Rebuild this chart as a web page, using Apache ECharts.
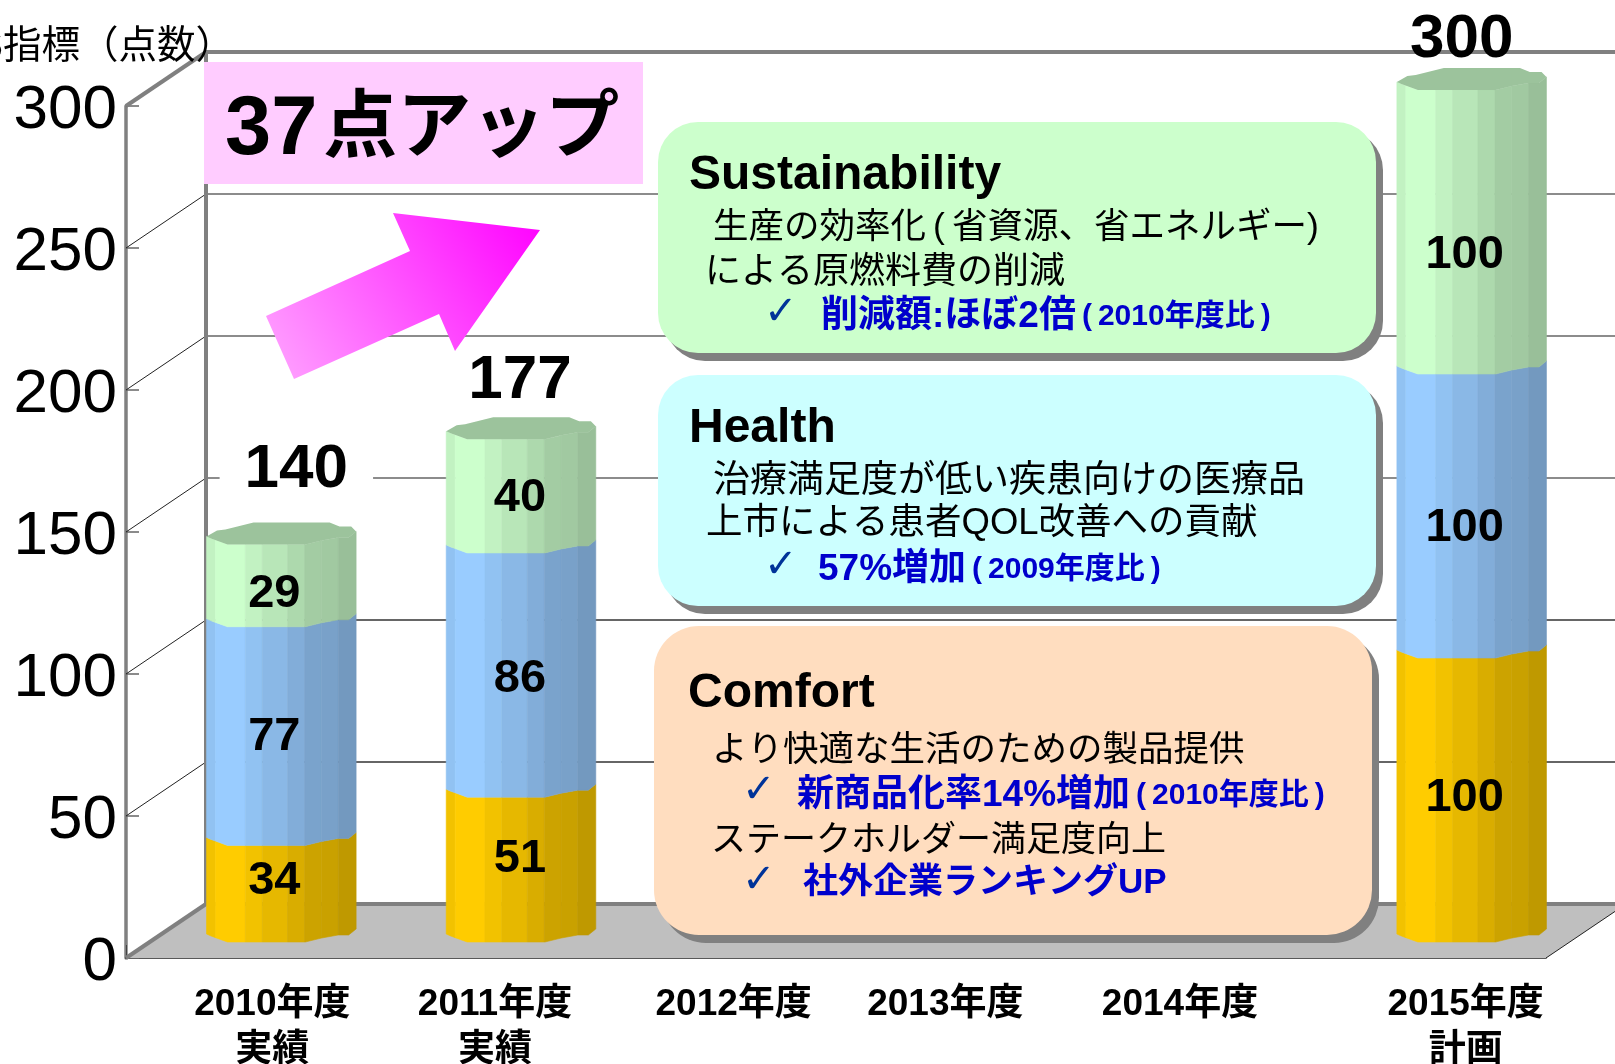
<!DOCTYPE html>
<html lang="ja">
<head>
<meta charset="utf-8">
<style>html,body{margin:0;padding:0;background:#fff;overflow:hidden}#c{width:1615px;height:1064px}</style>
<script src="https://cdn.jsdelivr.net/npm/echarts@6/dist/echarts.min.js"></script>
</head>
<body>
<div id="c"></div>
<script>
const categories = ['2010年度\n実績','2011年度\n実績','2012年度','2013年度','2014年度','2015年度\n計画'];
const comfort = [34,51,null,null,null,100];
const health = [77,86,null,null,null,100];
const sustainability = [29,40,null,null,null,100];
const totals = [140,177,null,null,null,300];
const yTicks = [0,50,100,150,200,250,300];
const comfortNudge = [-2,0,0,0,0,9];
const healthNudge = [12,15,0,0,0,23];
const sustainNudge = [19,13,0,0,0,34];
const labelShiftX = [-7,-1,0,0,0,-7];
const barShiftX = [-3,0,0,0,0,4];
const totalOffset = [[15,-63],[-1,-47],null,null,null,[-10,-39]];
const categoryShift = [[56,0],[28,0],[32,0],[0,18],[0,22],[76,0]];

const FONT = '"Liberation Sans","Noto Sans CJK JP",sans-serif';
const DEPTH_X = 80, DEPTH_Y = 54, TEXT_DY = 3.5;
const SHADES = [.95,1,.95,.9,.85,.8,.79,.75];
const STRIPS = [0,.06,.259,.372,.542,.655,.768,.88,1];
const FRONT = [[0,3],[.03,5],[.14,11],[.66,11],[.77,7],[.88,4],[.95,4],[1,-2]];
const BACK = [[0,3],[.07,-3],[.126,-4],[.314,-11],[.823,-11],[.889,-7],[.967,-7],[1,-2]];

function shade(hex,f){
  const n=parseInt(hex.slice(1),16);
  return 'rgb('+[(n>>16)&255,(n>>8)&255,n&255].map(c=>Math.round(c*f)).join(',')+')';
}
function prof(f){
  for(let i=1;i<FRONT.length;i++){
    if(f<=FRONT[i][0]){
      const a=FRONT[i-1],b=FRONT[i];
      return a[1]+(b[1]-a[1])*(f-a[0])/(b[0]-a[0]);
    }
  }
  return FRONT[FRONT.length-1][1];
}
function segmentSeries(name,color,values,below,nudge,isTop){
  const data=values.map((v,i)=>v==null?[i,null,null,null]:[i,below[i],below[i]+v,v]);
  return {
    type:'custom',name,data,z:3,clip:false,silent:true,
    encode:{x:0,y:2},
    renderItem(params,api){
      const i=api.value(0);
      if(values[i]==null) return null;
      const base=api.value(1),top=api.value(2);
      const W=api.size([1,0])[0]*.632;
      const cx=api.coord([i,0])[0]+DEPTH_X/2+barShiftX[i];
      const x0=cx-W/2;
      const yB=api.coord([i,base])[1]-DEPTH_Y/2;
      const yT=api.coord([i,top])[1]-DEPTH_Y/2;
      const kids=[];
      for(let s=0;s<SHADES.length;s++){
        const a=STRIPS[s],b=STRIPS[s+1];
        const fs=[a].concat(FRONT.map(p=>p[0]).filter(f=>f>a&&f<b),[b]);
        const pts=fs.map(f=>[x0+W*f,yT+prof(f)]).concat(fs.slice().reverse().map(f=>[x0+W*f,yB+prof(f)]));
        const c=shade(color,SHADES[s]);
        kids.push({type:'polygon',shape:{points:pts},style:{fill:c,stroke:c,lineWidth:.6}});
      }
      if(isTop){
        const pts=FRONT.map(p=>[x0+W*p[0],yT+p[1]]).concat(BACK.slice().reverse().map(p=>[x0+W*p[0],yT+p[1]]));
        kids.push({type:'polygon',shape:{points:pts},style:{fill:shade(color,.765)}});
      }
      kids.push({type:'text',z2:5,style:{
        x:cx+labelShiftX[i],y:(yB+yT)/2+nudge[i],text:String(values[i]),
        fontFamily:FONT,fontWeight:'bold',fontSize:47,fill:'#000',align:'center',verticalAlign:'middle'}});
      return {type:'group',children:kids};
    }
  };
}
const stack1=comfort.map(v=>0);
const stack2=comfort.map(v=>v==null?0:v);
const stack3=comfort.map((v,i)=>v==null?0:v+health[i]);

const backdrop={
  type:'custom',data:[[0,0]],z:1,clip:false,silent:true,
  renderItem(params,api){
    const g=params.coordSys;
    const L=g.x,R=g.x+g.width;
    const kids=[];
    const y0=api.coord([0,0])[1];
    const yTop=api.coord([0,300])[1];
    kids.push({type:'polygon',shape:{points:[[L,y0],[L+DEPTH_X,y0-DEPTH_Y],[R+DEPTH_X,y0-DEPTH_Y],[R,y0]]},style:{fill:'#bfbfbf'}});
    yTicks.slice(1,-1).forEach(v=>{
      const y=api.coord([0,v])[1];
      const col=v<=100?'#333':'#666';
      kids.push({type:'line',shape:{x1:L,y1:y,x2:L+DEPTH_X,y2:y-DEPTH_Y},style:{stroke:'#222',lineWidth:1}});
      kids.push({type:'line',shape:{x1:L+DEPTH_X,y1:y-DEPTH_Y,x2:R+DEPTH_X,y2:y-DEPTH_Y},style:{stroke:col,lineWidth:1.5}});
    });
    const thick={stroke:'#808080',lineWidth:4};
    kids.push({type:'line',shape:{x1:L+DEPTH_X,y1:yTop-DEPTH_Y,x2:L+DEPTH_X,y2:y0-DEPTH_Y},style:thick});
    kids.push({type:'line',shape:{x1:L+DEPTH_X,y1:yTop-DEPTH_Y,x2:R+DEPTH_X,y2:yTop-DEPTH_Y},style:thick});
    kids.push({type:'line',shape:{x1:L+DEPTH_X,y1:y0-DEPTH_Y,x2:R+DEPTH_X,y2:y0-DEPTH_Y},style:thick});
    kids.push({type:'line',shape:{x1:L,y1:yTop,x2:L+DEPTH_X,y2:yTop-DEPTH_Y},style:thick});
    kids.push({type:'line',shape:{x1:L,y1:y0,x2:L+DEPTH_X,y2:y0-DEPTH_Y},style:thick});
    kids.push({type:'line',shape:{x1:R,y1:y0,x2:R+DEPTH_X,y2:y0-DEPTH_Y},style:{stroke:'#222',lineWidth:1}});
    return {type:'group',children:kids};
  }
};
const totalSeries={
  type:'custom',data:totals.map((v,i)=>[i,v]),z:2,clip:false,silent:true,
  encode:{x:0,y:1},
  renderItem(params,api){
    const i=api.value(0);
    if(totals[i]==null) return null;
    const p=api.coord([i,totals[i]]);
    const off=totalOffset[i];
    const cx=p[0]+DEPTH_X/2+barShiftX[i]+off[0], cy=p[1]-DEPTH_Y/2+off[1];
    const boxed=i===0;
    return {type:'text',style:{x:cx,y:cy,text:String(totals[i]),fontFamily:FONT,fontWeight:'bold',fontSize:62,fill:'#000',
      align:'center',verticalAlign:'middle',
      backgroundColor:boxed?'#fff':'transparent',padding:boxed?[0,25]:0}};
  }
};

function panel(x,y,w,h,r,fill){
  return [
    {type:'rect',z:20,shape:{x:x+7,y:y+8,width:w,height:h,r},style:{fill:'#808080'}},
    {type:'rect',z:21,shape:{x,y,width:w,height:h,r},style:{fill}}
  ];
}
function line(x,y,text,extra){
  return {type:'text',z:22,x,y:y+TEXT_DY,style:Object.assign({text,fontFamily:FONT,fontSize:36,fill:'#000',verticalAlign:'middle'},extra||{})};
}
function heading(x,y,text){ return line(x,y,text,{fontSize:48,fontWeight:'bold'}); }
function check(x,y){ return line(x,y,'✓',{fontFamily:'"DejaVu Sans"',fontSize:40,fill:'#003399'}); }
function blue(x,y,big,small,bigSize){
  return {type:'text',z:22,x,y:y+TEXT_DY,style:{
    text:'{a|'+big+'}'+(small?'{b|\u2009(\u2009'+small+'\u2009)}':''),verticalAlign:'middle',
    rich:{a:{fontFamily:FONT,fontWeight:'bold',fontSize:bigSize||37,fill:'#0000cc'},b:{fontFamily:FONT,fontWeight:'bold',fontSize:30,fill:'#0000cc'}}}};
}
const graphics=[
  {type:'rect',z:10,shape:{x:204,y:62,width:439,height:122},style:{fill:'#ffccff'}},
  {type:'text',z:11,x:225,y:131,style:{text:'{a|37}{b|点アップ}',verticalAlign:'middle',
    rich:{a:{fontFamily:FONT,fontWeight:'bold',fontSize:83,fill:'#000'},b:{fontFamily:FONT,fontWeight:'bold',fontSize:74,fill:'#000',padding:[0,0,0,6]}}}},
  {type:'polygon',z:12,shape:{points:[[266,316],[294,379],[439,314],[455,351],[540,230],[393,213],[410,251]]},
    style:{fill:{type:'linear',x:0,y:1,x2:1,y2:0,colorStops:[{offset:0,color:'#ffa6ff'},{offset:1,color:'#ff00ff'}]}}},
  {type:'text',z:12,x:234,y:47,style:{text:'MOS指標（点数）',fontFamily:FONT,fontSize:38.5,fill:'#000',align:'right',verticalAlign:'middle'}},
  ...panel(658,122,718,231,40,'#ccffcc'),
  heading(689,172,'Sustainability'),
  line(713,225,'生産の効率化\u2009(\u2009省資源、省エネルギー)',{fontSize:35.5}),
  line(705,270,'による原燃料費の削減'),
  check(764,310),
  blue(821,313,'削減額:ほぼ2倍','2010年度比'),
  ...panel(658,375,718,231,40,'#ccffff'),
  heading(689,425,'Health'),
  line(713,478,'治療満足度が低い疾患向けの医療品',{fontSize:37}),
  line(706,520,'上市による患者QOL改善への貢献',{fontSize:36.5}),
  check(764,563),
  blue(818,566,'57%増加','2009年度比'),
  ...panel(654,626,718,309,45,'#ffddbf'),
  heading(688,690,'Comfort'),
  line(712,748,'より快適な生活のための製品提供',{fontSize:35.5}),
  check(742,788),
  blue(797,792,'新商品化率14%増加','2010年度比'),
  line(711,838,'ステークホルダー満足度向上',{fontSize:35}),
  check(742,878),
  blue(803,880,'社外企業ランキングUP',null,35),
];

const chart=echarts.init(document.getElementById('c'),null,{renderer:'canvas'});
chart.setOption({
  animation:false,
  backgroundColor:'#ffffff',
  textStyle:{fontFamily:FONT},
  grid:{left:126,right:69,top:106,bottom:106,containLabel:false,outerBoundsMode:'none'},
  xAxis:{type:'category',
    data:categories.map((c,i)=>({value:c,textStyle:{padding:[0,categoryShift[i][1],0,categoryShift[i][0]]}})),
    axisLine:{show:true,lineStyle:{color:'#222',width:1.5}},
    axisTick:{show:true,inside:true,length:13,lineStyle:{color:'#444',width:1},alignWithLabel:false},
    axisLabel:{interval:0,margin:24,fontFamily:FONT,fontWeight:'bold',fontSize:37,color:'#000',lineHeight:46,align:'center',verticalAlign:'top'},
    splitLine:{show:false}},
  yAxis:{type:'value',min:0,max:300,interval:50,
    axisLine:{show:true,lineStyle:{color:'#808080',width:3.5}},
    axisTick:{show:true,inside:true,length:13,lineStyle:{color:'#666',width:1.5}},
    axisLabel:{margin:9,fontFamily:'"Liberation Sans"',fontSize:62,color:'#000',verticalAlign:'top',lineHeight:10},
    splitLine:{show:false}},
  series:[
    backdrop,
    totalSeries,
    segmentSeries('Comfort','#ffcc00',comfort,stack1,comfortNudge,false),
    segmentSeries('Health','#99ccff',health,stack2,healthNudge,false),
    segmentSeries('Sustainability','#ccffcc',sustainability,stack3,sustainNudge,true)
  ],
  graphic:graphics
});
</script>
</body>
</html>
